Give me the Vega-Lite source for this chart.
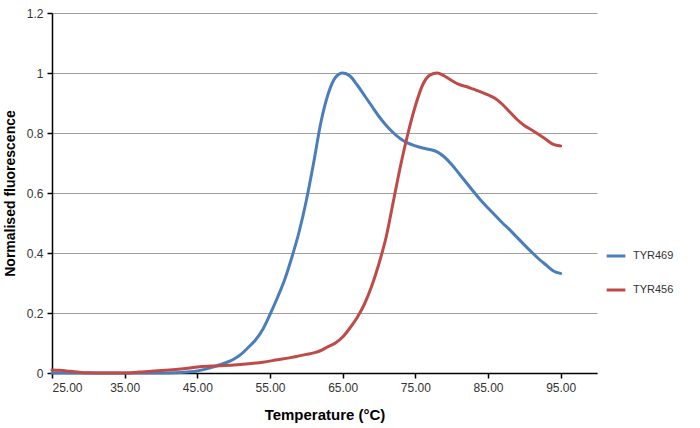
{
  "$schema": "https://vega.github.io/schema/vega-lite/v6.json",
  "width": 545,
  "height": 360,
  "autosize": "none",
  "padding": {"left": 52, "top": 13, "right": 103, "bottom": 55},
  "background": "white",
  "config": {"view": {"stroke": null}},
  "datasets": {
    "curves": [
      {"series": "TYR469", "t": 25, "v": 0}, {"series": "TYR469", "t": 30, "v": 0}, {"series": "TYR469", "t": 35, "v": 0}, {"series": "TYR469", "t": 40, "v": 0}, {"series": "TYR469", "t": 42, "v": 0.001}, {"series": "TYR469", "t": 44, "v": 0.004}, {"series": "TYR469", "t": 45, "v": 0.007}, {"series": "TYR469", "t": 46, "v": 0.012}, {"series": "TYR469", "t": 47, "v": 0.019}, {"series": "TYR469", "t": 48, "v": 0.027}, {"series": "TYR469", "t": 49, "v": 0.035}, {"series": "TYR469", "t": 50, "v": 0.046}, {"series": "TYR469", "t": 51, "v": 0.062}, {"series": "TYR469", "t": 52, "v": 0.085}, {"series": "TYR469", "t": 53, "v": 0.11}, {"series": "TYR469", "t": 54, "v": 0.145}, {"series": "TYR469", "t": 55, "v": 0.195}, {"series": "TYR469", "t": 56, "v": 0.25}, {"series": "TYR469", "t": 57, "v": 0.31}, {"series": "TYR469", "t": 58, "v": 0.385}, {"series": "TYR469", "t": 59, "v": 0.47}, {"series": "TYR469", "t": 60, "v": 0.575}, {"series": "TYR469", "t": 61, "v": 0.7}, {"series": "TYR469", "t": 62, "v": 0.835}, {"series": "TYR469", "t": 63, "v": 0.93}, {"series": "TYR469", "t": 64, "v": 0.985}, {"series": "TYR469", "t": 65, "v": 1.0}, {"series": "TYR469", "t": 66, "v": 0.99}, {"series": "TYR469", "t": 67, "v": 0.96}, {"series": "TYR469", "t": 68, "v": 0.925}, {"series": "TYR469", "t": 69, "v": 0.89}, {"series": "TYR469", "t": 70, "v": 0.855}, {"series": "TYR469", "t": 71, "v": 0.825}, {"series": "TYR469", "t": 72, "v": 0.8}, {"series": "TYR469", "t": 73, "v": 0.78}, {"series": "TYR469", "t": 74, "v": 0.766}, {"series": "TYR469", "t": 75, "v": 0.757}, {"series": "TYR469", "t": 76, "v": 0.75}, {"series": "TYR469", "t": 77, "v": 0.745}, {"series": "TYR469", "t": 78, "v": 0.737}, {"series": "TYR469", "t": 79, "v": 0.72}, {"series": "TYR469", "t": 80, "v": 0.695}, {"series": "TYR469", "t": 81, "v": 0.665}, {"series": "TYR469", "t": 82, "v": 0.635}, {"series": "TYR469", "t": 83, "v": 0.605}, {"series": "TYR469", "t": 84, "v": 0.576}, {"series": "TYR469", "t": 85, "v": 0.55}, {"series": "TYR469", "t": 86, "v": 0.525}, {"series": "TYR469", "t": 87, "v": 0.5}, {"series": "TYR469", "t": 88, "v": 0.477}, {"series": "TYR469", "t": 89, "v": 0.452}, {"series": "TYR469", "t": 90, "v": 0.427}, {"series": "TYR469", "t": 91, "v": 0.403}, {"series": "TYR469", "t": 92, "v": 0.38}, {"series": "TYR469", "t": 93, "v": 0.36}, {"series": "TYR469", "t": 94, "v": 0.34}, {"series": "TYR469", "t": 95, "v": 0.332},
      {"series": "TYR456", "t": 25, "v": 0.01}, {"series": "TYR456", "t": 26, "v": 0.009}, {"series": "TYR456", "t": 27, "v": 0.007}, {"series": "TYR456", "t": 28, "v": 0.004}, {"series": "TYR456", "t": 29, "v": 0.002}, {"series": "TYR456", "t": 30, "v": 0.001}, {"series": "TYR456", "t": 32, "v": 0}, {"series": "TYR456", "t": 35, "v": 0}, {"series": "TYR456", "t": 37, "v": 0.003}, {"series": "TYR456", "t": 40, "v": 0.008}, {"series": "TYR456", "t": 42, "v": 0.012}, {"series": "TYR456", "t": 44, "v": 0.017}, {"series": "TYR456", "t": 45, "v": 0.02}, {"series": "TYR456", "t": 47, "v": 0.023}, {"series": "TYR456", "t": 50, "v": 0.027}, {"series": "TYR456", "t": 52, "v": 0.031}, {"series": "TYR456", "t": 54, "v": 0.036}, {"series": "TYR456", "t": 56, "v": 0.044}, {"series": "TYR456", "t": 58, "v": 0.052}, {"series": "TYR456", "t": 59, "v": 0.057}, {"series": "TYR456", "t": 60, "v": 0.062}, {"series": "TYR456", "t": 61, "v": 0.067}, {"series": "TYR456", "t": 62, "v": 0.075}, {"series": "TYR456", "t": 63, "v": 0.088}, {"series": "TYR456", "t": 64, "v": 0.1}, {"series": "TYR456", "t": 65, "v": 0.12}, {"series": "TYR456", "t": 66, "v": 0.15}, {"series": "TYR456", "t": 67, "v": 0.185}, {"series": "TYR456", "t": 68, "v": 0.23}, {"series": "TYR456", "t": 69, "v": 0.29}, {"series": "TYR456", "t": 70, "v": 0.365}, {"series": "TYR456", "t": 71, "v": 0.455}, {"series": "TYR456", "t": 72, "v": 0.575}, {"series": "TYR456", "t": 73, "v": 0.695}, {"series": "TYR456", "t": 74, "v": 0.8}, {"series": "TYR456", "t": 75, "v": 0.89}, {"series": "TYR456", "t": 76, "v": 0.96}, {"series": "TYR456", "t": 77, "v": 0.993}, {"series": "TYR456", "t": 78, "v": 1.0}, {"series": "TYR456", "t": 79, "v": 0.99}, {"series": "TYR456", "t": 80, "v": 0.975}, {"series": "TYR456", "t": 81, "v": 0.962}, {"series": "TYR456", "t": 82, "v": 0.955}, {"series": "TYR456", "t": 83, "v": 0.946}, {"series": "TYR456", "t": 84, "v": 0.937}, {"series": "TYR456", "t": 85, "v": 0.927}, {"series": "TYR456", "t": 86, "v": 0.915}, {"series": "TYR456", "t": 87, "v": 0.895}, {"series": "TYR456", "t": 88, "v": 0.87}, {"series": "TYR456", "t": 89, "v": 0.845}, {"series": "TYR456", "t": 90, "v": 0.825}, {"series": "TYR456", "t": 91, "v": 0.81}, {"series": "TYR456", "t": 92, "v": 0.795}, {"series": "TYR456", "t": 93, "v": 0.778}, {"series": "TYR456", "t": 94, "v": 0.762}, {"series": "TYR456", "t": 95, "v": 0.757}
    ]
  },
  "data": {"name": "curves"},
  "mark": {"type": "line", "interpolate": "monotone", "strokeWidth": 3, "strokeCap": "round", "clip": false},
  "encoding": {
    "x": {
      "field": "t", "type": "quantitative",
      "scale": {"domain": [25, 100], "nice": false, "zero": false},
      "axis": {
        "title": "Temperature (°C)",
        "values": [25, 35, 45, 55, 65, 75, 85, 95],
        "format": ".2f",
        "grid": false,
        "domainColor": "black", "domainWidth": 1.5,
        "tickColor": "black", "tickWidth": 1.5, "tickSize": 5,
        "labelFont": "Liberation Sans", "labelFontSize": 12, "labelColor": "#333333", "labelPadding": 4,
        "titleFont": "Liberation Sans", "titleFontSize": 15, "titleFontWeight": "bold", "titleColor": "black", "titlePadding": 14
      }
    },
    "y": {
      "field": "v", "type": "quantitative",
      "scale": {"domain": [0, 1.2], "nice": false},
      "axis": {
        "title": "Normalised fluorescence",
        "values": [0, 0.2, 0.4, 0.6, 0.8, 1.0, 1.2],
        "format": "~g",
        "grid": true, "gridColor": "#a0a0a0", "gridWidth": 1.2,
        "domainColor": "black", "domainWidth": 1.5,
        "tickColor": "black", "tickWidth": 1.5, "tickSize": 5,
        "labelFont": "Liberation Sans", "labelFontSize": 12, "labelColor": "#333333", "labelPadding": 4,
        "titleFont": "Liberation Sans", "titleFontSize": 14, "titleFontWeight": "bold", "titleColor": "black", "titlePadding": 9
      }
    },
    "color": {
      "field": "series", "type": "nominal",
      "scale": {"domain": ["TYR469", "TYR456"], "range": ["#4A7EBB", "#BE4B48"]},
      "legend": {
        "title": null, "orient": "none", "legendX": 553, "legendY": 232,
        "symbolType": "stroke", "symbolStrokeWidth": 3, "symbolSize": 350,
        "rowPadding": 17, "labelFont": "Liberation Sans", "labelFontSize": 11, "labelColor": "#333333", "labelOffset": 6
      }
    }
  }
}
